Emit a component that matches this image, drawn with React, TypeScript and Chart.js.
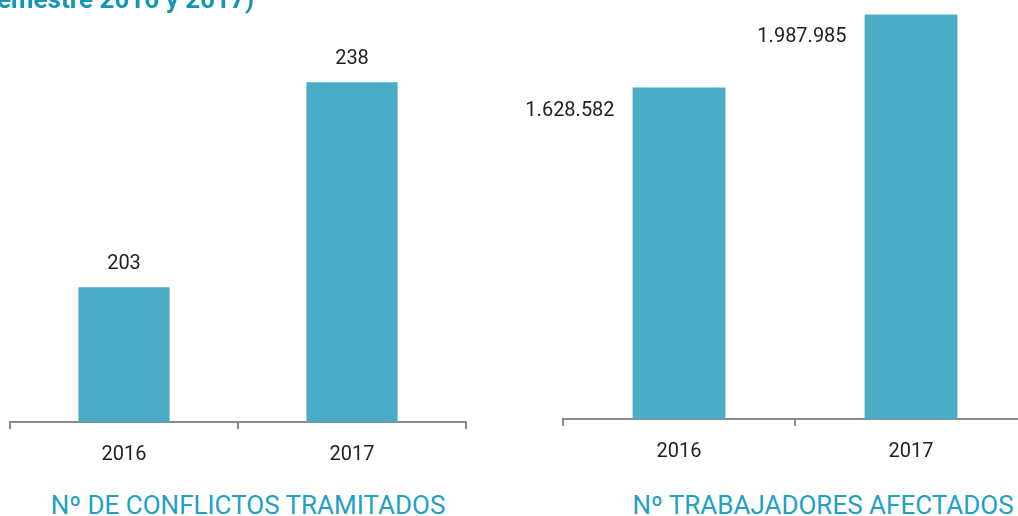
import React, { useEffect, useRef } from "react";
import { Chart, registerables } from "chart.js";

Chart.register(...registerables);

const categories = ["2016", "2017"];
const conflictos = [203, 238];
const trabajadores = [1628582, 1987985];
const conflictosLabels = ["203", "238"];
const trabajadoresLabels = ["1.628.582", "1.987.985"];
const leftTitle = "Nº DE CONFLICTOS TRAMITADOS";
const rightTitle = "Nº TRABAJADORES AFECTADOS";
const topTitle = "emestre 2016 y 2017)";

const BAR = "#4BACC6";
const AXIS = "#8a8a8a";
const TEAL = "#22a0c2";
const FONT = "Roboto";

function makeChart(
  canvas: HTMLCanvasElement,
  values: number[],
  labels: string[],
  yMin: number,
  yMax: number,
  pad: { left: number; right: number; top: number },
  axisHeight: number,
  mode: "above" | "left"
) {
  const labelPlugin = {
    id: "valueLabels",
    afterDatasetsDraw(chart: any) {
      const ctx = chart.ctx;
      const meta = chart.getDatasetMeta(0);
      ctx.save();
      ctx.font = `20px ${FONT}`;
      ctx.fillStyle = "#222";
      ctx.textBaseline = "middle";
      meta.data.forEach((bar: any, i: number) => {
        const p = bar.getProps(["x", "y", "width"], true);
        if (mode === "above") {
          ctx.textAlign = "center";
          ctx.fillText(labels[i], p.x, p.y - 23);
        } else {
          ctx.textAlign = "right";
          ctx.fillText(labels[i], p.x - p.width / 2 - 18, p.y + 23);
        }
      });
      ctx.restore();
    },
  };

  return new Chart(canvas, {
    type: "bar",
    data: {
      labels: categories,
      datasets: [
        {
          data: values,
          backgroundColor: BAR,
          borderWidth: 0,
          barPercentage: 0.4,
          categoryPercentage: 1,
        },
      ],
    },
    options: {
      animation: false,
      responsive: false,
      maintainAspectRatio: false,
      layout: { padding: { left: pad.left, right: pad.right, top: pad.top, bottom: 0 } },
      plugins: {
        legend: { display: false },
        tooltip: { enabled: false },
        title: { display: false },
      },
      scales: {
        x: {
          type: "category",
          afterFit: (s: any) => {
            s.height = axisHeight;
          },
          border: { display: true, color: AXIS, width: 2 },
          grid: {
            display: true,
            drawOnChartArea: false,
            drawTicks: true,
            tickLength: 7,
            color: AXIS,
            lineWidth: 2,
            offset: true,
          },
          ticks: {
            color: "#222",
            font: { family: FONT, size: 20 },
            padding: 14,
          },
        },
        y: {
          display: false,
          min: yMin,
          max: yMax,
        },
      },
    },
    plugins: [labelPlugin],
  });
}

export default function App() {
  const leftRef = useRef<HTMLCanvasElement>(null);
  const rightRef = useRef<HTMLCanvasElement>(null);

  useEffect(() => {
    document.body.style.margin = "0";
    const c1 = makeChart(
      leftRef.current!,
      conflictos,
      conflictosLabels,
      180,
      250,
      { left: 10, right: 14, top: 12 },
      48,
      "above"
    );
    const c2 = makeChart(
      rightRef.current!,
      trabajadores,
      trabajadoresLabels,
      0,
      2000000,
      { left: 63, right: 26, top: 12 },
      51,
      "left"
    );
    return () => {
      c1.destroy();
      c2.destroy();
    };
  }, []);

  return (
    <div
      style={{
        position: "fixed",
        left: 0,
        top: 0,
        width: 1018,
        height: 516,
        overflow: "hidden",
        background: "#fff",
        fontFamily: FONT,
      }}
    >
      <canvas
        ref={leftRef}
        width={480}
        height={470}
        style={{ position: "absolute", left: 0, top: 0, width: 480, height: 470 }}
      />
      <canvas
        ref={rightRef}
        width={553}
        height={470}
        style={{ position: "absolute", left: 500, top: 0, width: 553, height: 470 }}
      />
      <div
        style={{
          position: "absolute",
          left: -3,
          top: -14,
          fontSize: 26,
          lineHeight: "26px",
          fontWeight: 700,
          color: "#1596b5",
          whiteSpace: "nowrap",
        }}
      >
        {topTitle}
      </div>
      <div
        style={{
          position: "absolute",
          left: 248 - 250,
          width: 500,
          top: 492,
          textAlign: "center",
          fontSize: 26,
          lineHeight: "26px",
          color: TEAL,
          whiteSpace: "nowrap",
        }}
      >
        {leftTitle}
      </div>
      <div
        style={{
          position: "absolute",
          left: 823 - 250,
          width: 500,
          top: 492,
          textAlign: "center",
          fontSize: 26,
          lineHeight: "26px",
          color: TEAL,
          whiteSpace: "nowrap",
        }}
      >
        {rightTitle}
      </div>
    </div>
  );
}
